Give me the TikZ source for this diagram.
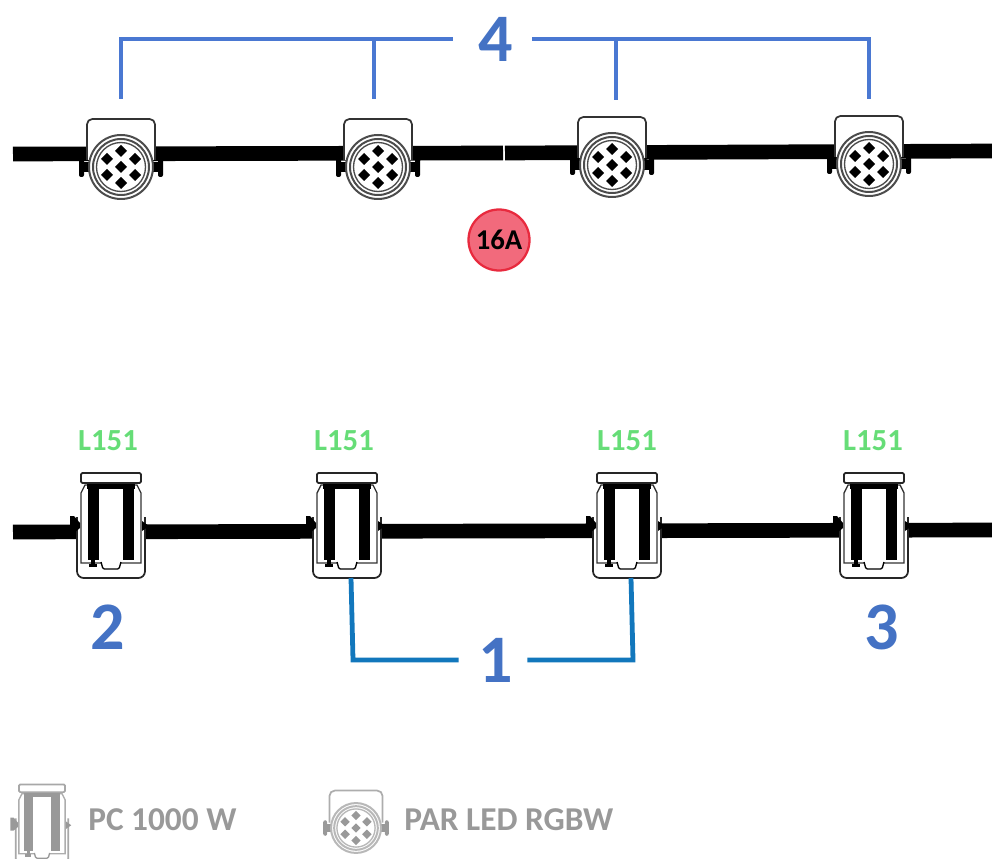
\documentclass[tikz,border=0pt]{standalone}
\usepackage{fontspec}
\setmainfont{Carlito}
\usetikzlibrary{calc,positioning}

\definecolor{wireblue}{HTML}{4A78D2}
\definecolor{wireteal}{HTML}{1277BC}
\definecolor{numblue}{HTML}{4472C4}
\definecolor{lampgreen}{HTML}{66DD77}
\definecolor{legendgray}{HTML}{999999}
\definecolor{breakerfill}{HTML}{F26A7C}
\definecolor{breakerline}{HTML}{E82A3E}

\tikzset{
    pics/parled/.style={code={
        \coordinate (-top) at (0,-48);
        % yoke
        \draw[#1!80!white, line width=1.3pt, fill=white, rounded corners=4pt] (-34,-7) -- (-34,-48) -- (34,-48) -- (34,-7);
        % side lugs
        \fill[#1, rounded corners=1.5pt] (-42,-10) rectangle (-37,10);
        \fill[#1] (-38,-5) rectangle (-30,5);
        \fill[#1, rounded corners=1.5pt] (37,-10) rectangle (42,10);
        \fill[#1] (30,-5) rectangle (38,5);
        % rings
        \draw[#1!70!white, line width=1.5pt, fill=white] (0,0) circle (32);
        \draw[#1!70!white, line width=1.5pt] (0,0) circle (28);
        \draw[#1!70!white, line width=1pt] (0,0) circle (24.5);
        % leds
        \foreach \dx/\dy in {0/0, 0/-16, 0/16, 14/-8, 14/8, -14/-8, -14/8}
            \fill[#1] (\dx,\dy-6) -- (\dx+6,\dy) -- (\dx,\dy+6) -- (\dx-6,\dy) -- cycle;
    }},
    pics/pcspot/.style={code={
        \coordinate (-low) at (4,51);
        % yoke
        \draw[#1!85!white, line width=1.3pt, fill=white, rounded corners=5pt] (-34,-10) -- (-34,51) -- (34,51) -- (34,-10);
        % lugs
        \fill[#1] (-41,-11) -- (-37,-11) -- (-31,-4) -- (-31,1) -- (-37,6) -- (-41,6) -- cycle;
        \fill[#1] (31,-6) -- (38,-1) -- (31,4) -- cycle;
        % body
        \draw[#1!80!white, line width=1pt, fill=white] (-30,-34) -- (-26,-42) -- (26,-42) -- (30,-34) -- (30,36) -- (-30,36) -- cycle;
        \fill[#1] (-24,-43) rectangle (24,-38);
        \fill[#1] (-23,-38) rectangle (-12,33);
        \fill[#1] (12,-38) rectangle (23,33);
        % cap
        \draw[#1!85!white, line width=1.3pt, fill=white, rounded corners=1pt] (-30,-54) rectangle (30,-44);
        % foot and lens
        \fill[#1] (-20,33) rectangle (-16,37);
        \fill[#1] (-22,37) rectangle (-14,40);
        \draw[#1, line width=1pt, fill=white, rounded corners=1pt] (-10,35) -- (-8,42) -- (8,42) -- (10,35);
    }}
}

\begin{document}
\begin{tikzpicture}[x=0.75pt, y=-0.75pt,
    bar/.style={line width=11pt},
    wiretop/.style={wireblue, line width=3.4pt},
    wirelow/.style={wireteal, line width=3.6pt},
    bignum/.style={numblue, font=\fontsize{51}{51}\selectfont\bfseries, inner sep=0pt},
    lamplabel/.style={lampgreen, font=\fontsize{23}{23}\selectfont\bfseries, inner sep=0pt},
    legendtext/.style={legendgray, font=\fontsize{25}{25}\selectfont\bfseries, anchor=west, inner sep=0pt}]
    \useasboundingbox (0,0) rectangle (992,859);

    % bars
    \coordinate (topa) at (13,154);
    \coordinate (topb) at (503,153);
    \coordinate (topc) at (505,153);
    \coordinate (topd) at (992,151);
    \coordinate (lowa) at (13,532);
    \coordinate (lowb) at (992,530);
    \draw[bar] (topa) -- (topb);
    \draw[bar] (topc) -- (topd);
    \draw[bar] (lowa) -- (lowb);

    % top row
    \pic (para) at (121,167) {parled=black};
    \pic (parb) at (378,167) {parled=black};
    \pic (parc) at (612,165) {parled=black};
    \pic (pard) at (869,164) {parled=black};

    \node[bignum, minimum width=72*0.75pt, minimum height=40*0.75pt] (four) at (496,39) {4};
    \draw[wiretop] ($(para-top)+(0,-20)$) coordinate (parafree) |- ($(four.west)+(-7,0)$);
    \draw[wiretop] ($(parb-top)+(-4,-20)$) coordinate (parbfree) -- (parbfree |- four.west);
    \draw[wiretop] (four.east) -| ($(pard-top)+(0,-17)$) coordinate (pardfree);
    \draw[wiretop] ($(parc-top)+(4,-17)$) coordinate (parcfree) -- (parcfree |- four.east);

    \node[circle, draw=breakerline, fill=breakerfill, line width=1.7pt, minimum size=61*0.75pt, inner sep=0pt,
          font=\fontsize{21.5}{21.5}\selectfont\bfseries] (breaker) at (499,240) {16A};

    % low row
    \pic (pca) at (111,527) {pcspot=black};
    \pic (pcb) at (347,527) {pcspot=black};
    \pic (pcc) at (627,527) {pcspot=black};
    \pic (pcd) at (874,527) {pcspot=black};

    \node[lamplabel] (lampa) at (108,441) {L151};
    \node[lamplabel] (lampb) at (344,441) {L151};
    \node[lamplabel] (lampc) at (627,441) {L151};
    \node[lamplabel] (lampd) at (873,441) {L151};

    \node[bignum] (two) at (108,627) {2};
    \node[bignum] (three) at (882,627) {3};
    \node[bignum, minimum width=62*0.75pt, minimum height=40*0.75pt] (one) at (496,660) {1};
    \draw[wirelow] (pcb-low) -- ($(pcb-low |- one.west)+(2,0)$) -- ($(one.west)+(-6,0)$);
    \draw[wirelow] (pcc-low) -- ($(pcc-low |- one.east)+(2,0)$) -- (one.east);

    % legend
    \pic[scale=0.77] (keypc) at (42,826) {pcspot=legendgray};
    \pic[scale=0.78] (keypar) at (356,828) {parled=legendgray};
    \node[legendtext] (keypctext) at (88,820) {PC 1000 W};
    \node[legendtext] (keypartext) at (404,820) {PAR LED RGBW};
\end{tikzpicture}
\end{document}
